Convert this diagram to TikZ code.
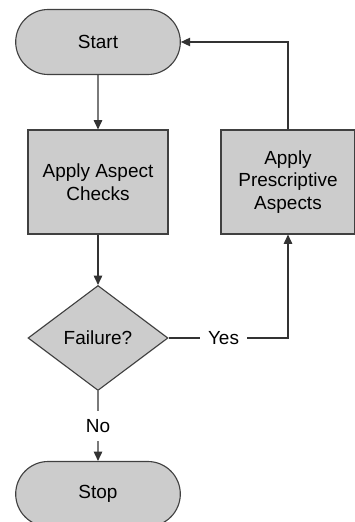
\documentclass[tikz,border=0pt]{standalone}
\usepackage{fontspec}
\setmainfont{Liberation Sans}
\usepackage{tikz}
\usetikzlibrary{shapes,arrows,positioning,calc,arrows.meta}

\begin{document}
\begin{tikzpicture}[
    terminal/.style={rounded rectangle, draw=black!75, line width=0.8pt, fill=gray!40, minimum width=4.35cm, minimum height=1.625cm},
    process/.style={rectangle, draw=black!75, line width=0.8pt, fill=gray!40, minimum height=2.6cm, align=center},
    decision/.style={diamond, draw=black!75, line width=0.8pt, fill=gray!40, minimum width=3.5cm, minimum height=2.625cm, inner sep=0pt},
    flow/.style={-{Triangle[length=2.3mm,width=2.1mm]}, draw=black!80, line width=0.8pt},
    lbl/.style={fill=white, inner sep=2mm},
    font=\fontsize{13.5pt}{16pt}\selectfont
]
    \useasboundingbox (0,0) rectangle (8.875,-13.05);
    \clip (0,0) rectangle (8.875,-13.05);

    \node[terminal] (start) at (2.45,-1.05) {Start};
    \node[process, minimum width=3.5cm] (check) at (2.45,-4.55) {Apply Aspect\\Checks};
    \node[process, minimum width=3.35cm] (presc) at (7.2,-4.55) {Apply\\Prescriptive\\Aspects};
    \node[decision] (fail) at (2.45,-8.45) {Failure?};
    \node[terminal] (stop) at (2.45,-12.35) {Stop};
    \coordinate (turn) at (fail.east -| presc.south);

    \draw[flow] (start) -- (check);
    \draw[flow] (check) -- (fail);
    \draw[flow] (fail) -- node[lbl] (no) {No} (stop); % no branch
    \draw[flow] (fail.east) -- node[lbl, pos=0.46] (yes) {Yes} (turn) -- (presc.south);
    \draw[flow] (presc.north) |- (start.east); % loop back
\end{tikzpicture}
\end{document}
